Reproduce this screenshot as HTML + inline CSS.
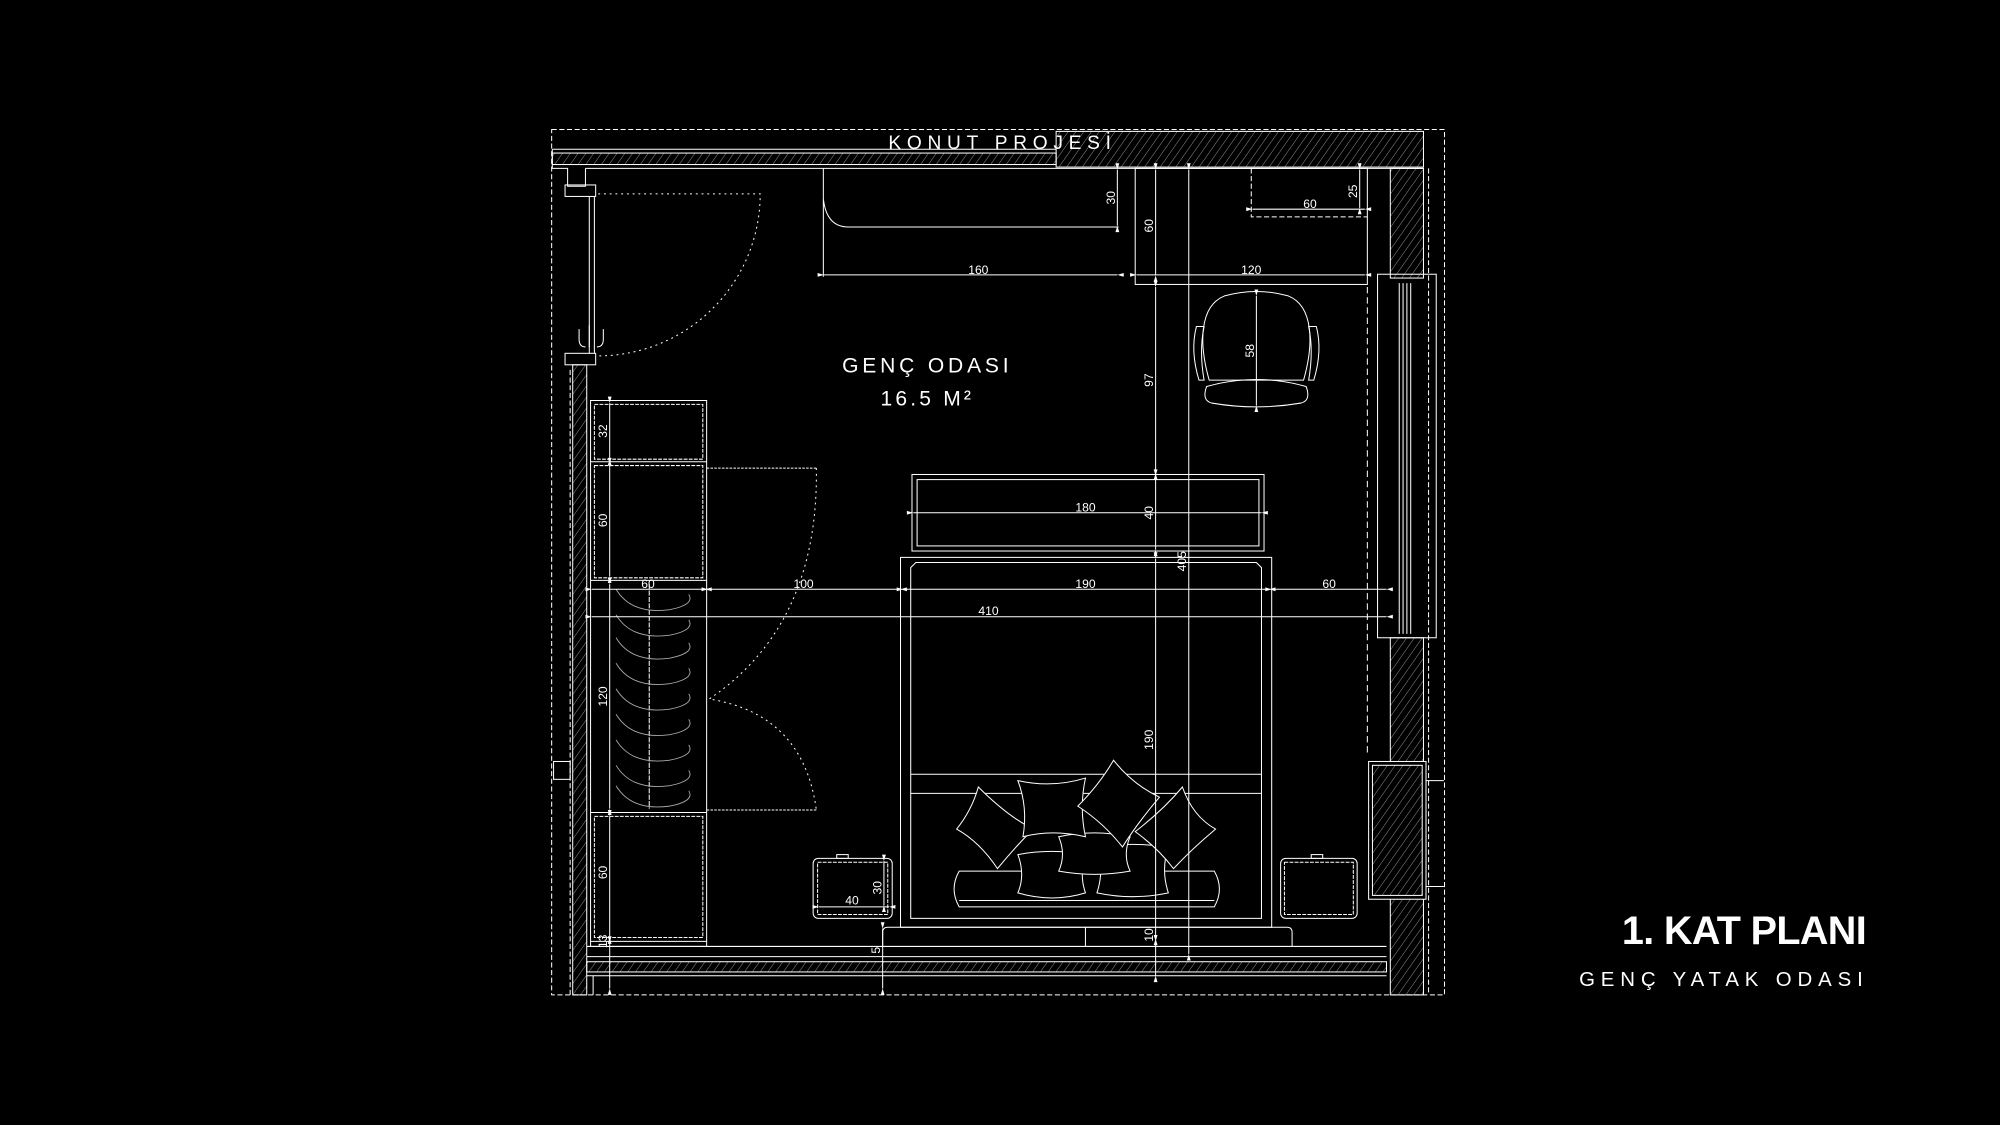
<!DOCTYPE html>
<html><head><meta charset="utf-8"><style>
html,body{margin:0;padding:0;background:#000;}
svg{display:block;}
</style></head><body>
<svg width="2000" height="1125" viewBox="0 0 1568 882" xmlns="http://www.w3.org/2000/svg">
<defs>
<pattern id="h" width="5" height="5" patternUnits="userSpaceOnUse" patternTransform="rotate(35)">
<line x1="0" y1="0" x2="0" y2="5" stroke="#bbb" stroke-width="0.6"/></pattern>
<marker id="a" viewBox="0 0 10 10" refX="0" refY="5" markerWidth="7" markerHeight="5" orient="auto-start-reverse" markerUnits="userSpaceOnUse">
<path d="M0,5 L10,2 L10,8 Z" fill="#fff"/></marker>
</defs>
<rect width="1568" height="882" fill="#000"/>
<g fill="none" stroke="#fff" stroke-width="0.8">
<rect x="432.5" y="101.5" width="700" height="678.5" stroke-dasharray="4,2"/>
<line x1="447" y1="290" x2="447" y2="780" stroke-dasharray="4,2"/>
<line x1="1120" y1="132" x2="1120" y2="780" stroke-dasharray="4,2"/>
<rect x="828" y="103" width="288" height="28" fill="url(#h)"/>
<rect x="433" y="120" width="395" height="9" fill="url(#h)"/>
<line x1="433" y1="117" x2="828" y2="117"/>
<line x1="459" y1="132" x2="1116" y2="132"/>
<path d="M433,117 V132 H445 V146 H459 V132"/>
<rect x="443" y="145" width="24" height="9"/>
<rect x="443" y="277" width="24" height="9"/>
<line x1="462" y1="154" x2="462" y2="277"/>
<line x1="466" y1="154" x2="466" y2="277"/>
<path d="M454,258 v8 q0,6 5,6 M473,258 v8 q0,6 -5,6 M462,255 v17" />
<path d="M469,152 H596 A127,127 0 0 1 469,279" stroke-dasharray="1.5,3"/>
<rect x="449" y="286" width="11" height="494" fill="url(#h)"/>
<rect x="434" y="597" width="13" height="14"/>
<rect x="1090" y="132" width="26" height="86" fill="url(#h)"/>
<rect x="1080" y="215" width="46" height="285"/>
<line x1="1097" y1="222" x2="1097" y2="497"/><line x1="1100" y1="222" x2="1100" y2="497"/>
<line x1="1103" y1="222" x2="1103" y2="497"/><line x1="1106" y1="222" x2="1106" y2="497"/>
<rect x="1090" y="500" width="26" height="280" fill="url(#h)"/>
<rect x="1073" y="597" width="45" height="108" fill="#000"/>
<rect x="1076" y="600" width="39" height="102" fill="url(#h)"/>
<line x1="1118" y1="612" x2="1132" y2="612"/><line x1="1118" y1="695" x2="1132" y2="695"/>
<line x1="1072" y1="225" x2="1072" y2="590" stroke-dasharray="5,3"/>
<line x1="460" y1="742" x2="1087" y2="742"/>
<line x1="460" y1="750" x2="1087" y2="750"/>
<rect x="460" y="754" width="627" height="8" fill="url(#h)"/>
<line x1="460" y1="765" x2="1087" y2="765"/>
<line x1="465" y1="765" x2="465" y2="780"/>
<path d="M645.5,132 V217 M645.5,156 Q648,178 665,178 H877"/>
<rect x="890" y="132" width="182" height="91"/>
<path d="M981,132 V170 H1072" stroke-dasharray="4,2"/>
<path d="M948,298 C940,270 940,240 960,232 Q985,225 1010,232 C1030,240 1030,270 1022,298 Z"/>
<path d="M938,256 Q933,275 940,298 L944,298 Q940,275 944,256 Z"/>
<path d="M1032,256 Q1037,275 1030,298 L1026,298 Q1030,275 1026,256 Z"/>
<path d="M946,303 Q985,292 1024,303 Q1028,314 1020,316 Q985,322 950,316 Q942,314 946,303 Z"/>
<rect x="715" y="372" width="276" height="60"/>
<rect x="719" y="376" width="268" height="52"/>
<rect x="706" y="437" width="291" height="290"/>
<path d="M714,445 L718,441 H985 L989,445 V720 H714 Z"/>
<line x1="714" y1="607" x2="989" y2="607"/>
<line x1="714" y1="622" x2="989" y2="622"/>
<path d="M692,742 V731 Q692,727 696,727 H1009 Q1013,727 1013,731 V742 M851,727 V742"/>
<path d="M752,683 H952 Q960,697 952,711 H752 Q744,697 752,683 Z" fill="#000"/>
<line x1="752" y1="706" x2="952" y2="706"/>
<path d="M798,670 Q825,665 851,670 Q846,686 851,700 Q825,708 798,700 Q804,686 798,670 Z" fill="#000"/>
<path d="M860,664 Q888,660 916,664 Q910,682 916,700 Q888,706 860,700 Q866,682 860,664 Z" fill="#000"/>
<path d="M830,656 Q858,650 886,656 Q880,670 886,683 Q858,688 830,683 Q836,670 830,656 Z" fill="#000"/>
<path d="M767,617 Q790,640 810,650 Q795,665 782,681 Q768,660 750,650 Q762,635 767,617 Z" fill="#000"/>
<path d="M927,617 Q935,640 953,650 Q935,665 920,681 Q908,665 890,652 Q912,635 927,617 Z" fill="#000"/>
<path d="M798,612 Q825,618 851,610 Q846,633 851,656 Q825,650 802,656 Q806,633 798,612 Z" fill="#000"/>
<path d="M873,596 Q888,615 909,625 Q892,645 880,664 Q865,645 845,632 Q862,615 873,596 Z" fill="#000"/>
<rect x="637.5" y="673" width="62" height="47" rx="4"/>
<rect x="641" y="676" width="55" height="41" stroke-dasharray="3,1"/>
<rect x="656" y="670" width="9" height="3"/>
<rect x="1004" y="673" width="60" height="47" rx="4"/>
<rect x="1007" y="676" width="54" height="41" stroke-dasharray="3,1"/>
<rect x="1028" y="670" width="9" height="3"/>
<rect x="463" y="314" width="91" height="428"/>
<rect x="466" y="317" width="85" height="43" stroke-dasharray="3,1"/>
<line x1="463" y1="362" x2="554" y2="362"/>
<rect x="466" y="365" width="85" height="88" stroke-dasharray="3,1"/>
<line x1="463" y1="455" x2="554" y2="455"/>
<line x1="509" y1="458" x2="509" y2="634" stroke-dasharray="4,1"/>
<line x1="463" y1="637" x2="554" y2="637"/>
<rect x="466" y="640" width="85" height="95" stroke-dasharray="3,1"/>
<line x1="463" y1="738" x2="554" y2="738"/>
<path d="M554,367 H640 M554,635 H640" stroke-dasharray="2,1"/>
<path d="M640,367 Q642,490 556,548 Q630,560 640,635" stroke-dasharray="1.5,3"/>
</g>
<g fill="none" stroke="#aaa" stroke-width="0.7">
<path d="M483,462 Q495,482 525,478 Q545,474 540,466"/>
<path d="M483,482 Q495,502 525,498 Q545,494 540,486"/>
<path d="M483,500 Q495,520 525,516 Q545,512 540,504"/>
<path d="M483,520 Q495,540 525,536 Q545,532 540,524"/>
<path d="M483,540 Q495,560 525,556 Q545,552 540,544"/>
<path d="M483,560 Q495,580 525,576 Q545,572 540,564"/>
<path d="M483,580 Q495,600 525,596 Q545,592 540,584"/>
<path d="M483,600 Q495,620 525,616 Q545,612 540,604"/>
<path d="M483,616 Q495,636 525,632 Q545,628 540,620"/>
</g>
<g stroke="#fff" stroke-width="0.8" marker-start="url(#a)" marker-end="url(#a)">
<line x1="876" y1="133" x2="876" y2="177"/>
<line x1="906" y1="133" x2="906" y2="216"/>
<line x1="932" y1="133" x2="932" y2="748"/>
<line x1="646" y1="215.5" x2="876" y2="215.5"/>
<line x1="891" y1="215.5" x2="1070" y2="215.5"/>
<line x1="982" y1="164" x2="1070" y2="164"/>
<line x1="1066" y1="133" x2="1066" y2="163"/>
<line x1="985" y1="232" x2="985" y2="318"/>
<line x1="906" y1="225" x2="906" y2="371"/>
<line x1="716" y1="402" x2="989" y2="402"/>
<line x1="906" y1="373" x2="906" y2="431"/>
<line x1="906" y1="438" x2="906" y2="736"/>
<line x1="906" y1="738" x2="906" y2="765"/>
<line x1="464" y1="462" x2="553" y2="462"/>
<line x1="555" y1="462" x2="706" y2="462"/>
<line x1="708" y1="462" x2="995" y2="462"/>
<line x1="997" y1="462" x2="1087" y2="462"/>
<line x1="464" y1="483.5" x2="1087" y2="483.5"/>
<line x1="478" y1="316" x2="478" y2="360"/>
<line x1="478" y1="364" x2="478" y2="452"/>
<line x1="478" y1="458" x2="478" y2="634"/>
<line x1="478" y1="640" x2="478" y2="735"/>
<line x1="478" y1="739" x2="478" y2="775"/>
<line x1="692" y1="728" x2="692" y2="775"/>
<line x1="642" y1="711" x2="697" y2="711"/>
<line x1="693" y1="675" x2="693" y2="710"/>
</g>
<g fill="#fff" font-family="'Liberation Sans', sans-serif" font-size="9.5" text-anchor="middle">
<text x="767" y="215">160</text>
<text x="981" y="215">120</text>
<text x="1027" y="163">60</text>
<text x="851" y="401">180</text>
<text x="508" y="461">60</text>
<text x="630" y="461">100</text>
<text x="851" y="461">190</text>
<text x="1042" y="461">60</text>
<text x="775" y="482">410</text>
<text x="668" y="709">40</text>
<text transform="translate(874,155) rotate(-90)">30</text>
<text transform="translate(904,177) rotate(-90)">60</text>
<text transform="translate(1064,150) rotate(-90)">25</text>
<text transform="translate(983,275) rotate(-90)">58</text>
<text transform="translate(904,298) rotate(-90)">97</text>
<text transform="translate(904,402) rotate(-90)">40</text>
<text transform="translate(930,440) rotate(-90)">405</text>
<text transform="translate(904,580) rotate(-90)">190</text>
<text transform="translate(904,733) rotate(-90)">10</text>
<text transform="translate(690,745) rotate(-90)">5</text>
<text transform="translate(691,696) rotate(-90)">30</text>
<text transform="translate(476,338) rotate(-90)">32</text>
<text transform="translate(476,408) rotate(-90)">60</text>
<text transform="translate(476,546) rotate(-90)">120</text>
<text transform="translate(476,684) rotate(-90)">60</text>
<text transform="translate(476,738) rotate(-90)">13</text>
</g>
<g fill="#fff" font-family="'Liberation Sans', sans-serif" text-anchor="middle">
<text x="786" y="117" font-size="15" letter-spacing="4.5">KONUT PROJESİ</text>
<text x="727" y="292" font-size="16.5" letter-spacing="3">GENÇ ODASI</text>
<text x="727" y="318" font-size="16.5" letter-spacing="2.5">16.5 M²</text>
</g>
<g fill="#fff" font-family="'Liberation Sans', sans-serif" text-anchor="end">
<text x="1463" y="740" font-size="31" font-weight="bold" letter-spacing="-0.5">1. KAT PLANI</text>
<text x="1465" y="773" font-size="16" letter-spacing="4.6">GENÇ YATAK ODASI</text>
</g>
</svg>
</body></html>
